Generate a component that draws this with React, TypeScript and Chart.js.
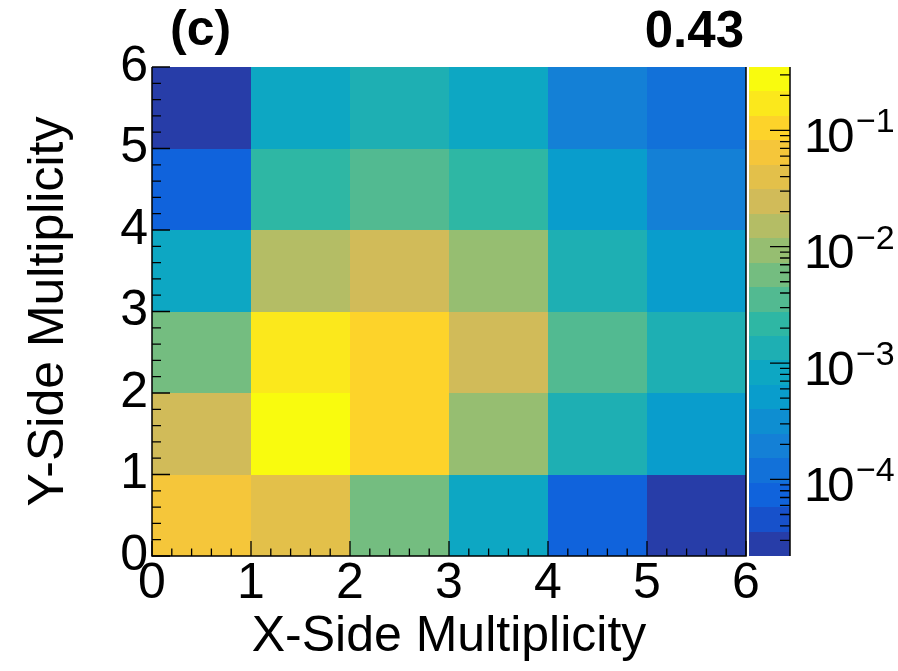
import React, { useEffect, useRef } from "react";
import { Chart, registerables } from "chart.js";

Chart.register(...registerables);

// ---- data ----
const xBinLow = [0, 1, 2, 3, 4, 5];
const yBinLow = [0, 1, 2, 3, 4, 5];
const binWidth = 1;
// values per Y row (index = X bin)
const rowY0 = [6.4e-2, 4.0e-2, 5.7e-3, 8.2e-4, 7.3e-5, 2.8e-5];
const rowY1 = [2.4e-2, 2.7e-1, 1.0e-1, 9.2e-3, 1.3e-3, 5.0e-4];
const rowY2 = [5.7e-3, 1.6e-1, 1.0e-1, 2.4e-2, 3.5e-3, 1.3e-3];
const rowY3 = [8.2e-4, 1.5e-2, 2.4e-2, 9.2e-3, 1.3e-3, 5.0e-4];
const rowY4 = [7.3e-5, 2.2e-3, 3.5e-3, 2.2e-3, 5.0e-4, 1.9e-4];
const rowY5 = [2.8e-5, 8.2e-4, 1.3e-3, 8.2e-4, 1.9e-4, 1.2e-4];
const rows = [rowY0, rowY1, rowY2, rowY3, rowY4, rowY5];

const axisMin = 0;
const axisMax = 6;
const zMin = 2.2e-5;
const zMax = 0.35;
const nContours = 20;
const zDecades = [-4, -3, -2, -1];

const panelLabel = "(c)";
const panelValue = "0.43";
const xTitle = "X-Side Multiplicity";
const yTitle = "Y-Side Multiplicity";

// ROOT kBird palette
const birdStops = [0.0, 0.125, 0.25, 0.375, 0.5, 0.625, 0.75, 0.875, 1.0];
const birdRed = [0.2082, 0.0592, 0.078, 0.0232, 0.1802, 0.5301, 0.8186, 0.9956, 0.9764];
const birdGreen = [0.1664, 0.3599, 0.5041, 0.6419, 0.7178, 0.7492, 0.7328, 0.7862, 0.9832];
const birdBlue = [0.5293, 0.8684, 0.8385, 0.7914, 0.6425, 0.4662, 0.3499, 0.1968, 0.0539];

const FONT = "'Liberation Sans', Arial, Helvetica, sans-serif";

function bird(t: number): string {
  const tt = Math.max(0, Math.min(1, t));
  let i = 0;
  while (i < birdStops.length - 2 && tt > birdStops[i + 1]) i++;
  const f = (tt - birdStops[i]) / (birdStops[i + 1] - birdStops[i]);
  const c = (a: number[]) => Math.round((a[i] + (a[i + 1] - a[i]) * f) * 255);
  return `rgb(${c(birdRed)},${c(birdGreen)},${c(birdBlue)})`;
}

function bandColor(b: number): string {
  const k = Math.floor(((b + 0.99) * 255) / nContours);
  return bird(Math.min(k, 254) / 254);
}

function bandOf(v: number): number {
  const lo = Math.log10(zMin);
  const hi = Math.log10(zMax);
  const b = Math.floor(((Math.log10(v) - lo) / (hi - lo)) * nContours);
  return Math.max(0, Math.min(nContours - 1, b));
}

const heatPlugin = {
  id: "heat",
  beforeDatasetsDraw(chart: any) {
    const { ctx, chartArea } = chart;
    const xs = chart.scales.x;
    const ys = chart.scales.y;
    const zs = chart.scales.z;
    const pts = chart.data.datasets[0].data;
    ctx.save();
    for (const p of pts) {
      const x0 = xs.getPixelForValue(p.xl);
      const x1 = xs.getPixelForValue(p.xl + binWidth);
      const y0 = ys.getPixelForValue(p.yl);
      const y1 = ys.getPixelForValue(p.yl + binWidth);
      ctx.fillStyle = bandColor(bandOf(p.v));
      const l = Math.round(x0), r = Math.round(x1), t = Math.round(y1), btm = Math.round(y0);
      ctx.fillRect(l, t, r - l, btm - t);
    }
    // colour bar
    const lo = Math.log10(zMin);
    const hi = Math.log10(zMax);
    const step = (hi - lo) / nContours;
    const barL = chartArea.right + 3;
    const barR = chartArea.right + 44;
    for (let b = 0; b < nContours; b++) {
      const pyLow = Math.round(zs.getPixelForValue(Math.pow(10, lo + b * step)));
      const pyHigh = Math.round(zs.getPixelForValue(Math.pow(10, lo + (b + 1) * step)));
      ctx.fillStyle = bandColor(b);
      ctx.fillRect(barL, pyHigh, barR - barL, pyLow - pyHigh);
    }
    ctx.restore();
  },
  afterDatasetsDraw(chart: any) {
    const { ctx, chartArea } = chart;
    const xs = chart.scales.x;
    const ys = chart.scales.y;
    const zs = chart.scales.z;
    const { left, right, top, bottom } = chartArea;
    ctx.save();
    ctx.strokeStyle = "#000";
    ctx.lineWidth = 1.5;
    ctx.beginPath();
    ctx.moveTo(left, top);
    ctx.lineTo(left, bottom);
    ctx.lineTo(right, bottom);
    ctx.lineTo(right, top);
    ctx.stroke();
    // axis ticks
    ctx.lineWidth = 1.3;
    ctx.beginPath();
    for (let v = axisMin; v <= axisMax + 1e-9; v += 0.2) {
      const major = Math.abs(v - Math.round(v)) < 1e-6;
      const py = ys.getPixelForValue(v);
      ctx.moveTo(left, py);
      ctx.lineTo(left + (major ? 18 : 9), py);
      const px = xs.getPixelForValue(v);
      ctx.moveTo(px, bottom);
      ctx.lineTo(px, bottom - (major ? 15 : 7.5));
    }
    ctx.stroke();
    // colour bar axis
    const barR = right + 44;
    ctx.lineWidth = 1.5;
    ctx.beginPath();
    ctx.moveTo(barR, top);
    ctx.lineTo(barR, bottom);
    ctx.stroke();
    ctx.lineWidth = 1.3;
    ctx.beginPath();
    for (let e = -6; e <= 1; e++) {
      for (let m = 1; m <= 9; m++) {
        const v = m * Math.pow(10, e);
        if (v < zMin || v > zMax) continue;
        const py = zs.getPixelForValue(v);
        ctx.moveTo(barR, py);
        ctx.lineTo(barR - (m === 1 ? 20 : 10), py);
      }
    }
    ctx.stroke();
    // colour bar labels
    ctx.fillStyle = "#000";
    ctx.textAlign = "left";
    ctx.textBaseline = "alphabetic";
    for (const e of zDecades) {
      const py = zs.getPixelForValue(Math.pow(10, e));
      ctx.font = `49px ${FONT}`;
      try { (ctx as any).letterSpacing = "-4px"; } catch (err) {}
      ctx.fillText("10", right + 58, py + 21.7);
      try { (ctx as any).letterSpacing = "0px"; } catch (err) {}
      ctx.font = `34px ${FONT}`;
      ctx.fillText("\u2212" + String(-e), right + 110, py + 2);
    }
    // panel texts
    ctx.font = `bold 50px ${FONT}`;
    ctx.textAlign = "left";
    ctx.fillText(panelLabel, left + 18, 45);
    ctx.font = `bold 51px ${FONT}`;
    ctx.textAlign = "right";
    ctx.fillText(panelValue, right - 2, 47);
    ctx.restore();
  },
};

const points: any[] = [];
yBinLow.forEach((yl, j) => {
  xBinLow.forEach((xl, i) => {
    points.push({ x: xl + binWidth / 2, y: yl + binWidth / 2, xl, yl, v: rows[j][i] });
  });
});

export default function App() {
  const ref = useRef<HTMLCanvasElement | null>(null);
  useEffect(() => {
    if (!ref.current) return;
    const tickFont = { family: FONT, size: 50, lineHeight: 1 };
    const titleFont = { family: FONT, size: 50 };
    const chart = new Chart(ref.current, {
      type: "scatter",
      data: {
        datasets: [
          {
            data: points,
            pointRadius: 0,
            pointHoverRadius: 0,
            showLine: false,
          },
        ],
      },
      options: {
        animation: false,
        responsive: true,
        maintainAspectRatio: false,
        events: [],
        layout: { padding: { top: 67, left: 0, right: 0, bottom: 0 } },
        plugins: { legend: { display: false }, tooltip: { enabled: false }, title: { display: false } },
        scales: {
          x: {
            type: "linear",
            position: "bottom",
            min: axisMin,
            max: axisMax,
            grid: { display: false, drawTicks: false },
            border: { display: false },
            ticks: {
              stepSize: 1,
              autoSkip: false,
              maxRotation: 0,
              minRotation: 0,
              padding: 3.5,
              color: "#000",
              font: tickFont,
              callback: (v: any) => String(v),
            },
            title: { display: true, text: xTitle, color: "#000", font: titleFont, padding: { top: 0, bottom: 4 } },
            afterFit: (s: any) => {
              s.height = 115;
            },
          },
          y: {
            type: "linear",
            position: "left",
            min: axisMin,
            max: axisMax,
            grid: { display: false, drawTicks: false },
            border: { display: false },
            ticks: {
              stepSize: 1,
              autoSkip: false,
              padding: 4,
              color: "#000",
              font: tickFont,
              callback: (v: any) => String(v),
            },
            title: { display: true, text: yTitle, color: "#000", font: titleFont, padding: { top: 19, bottom: 0 } },
            afterFit: (s: any) => {
              s.width = 152;
            },
          },
          z: {
            type: "logarithmic",
            position: "right",
            axis: "y",
            min: zMin,
            max: zMax,
            grid: { display: false, drawTicks: false },
            border: { display: false },
            ticks: { display: false },
            afterFit: (s: any) => {
              s.width = 152;
            },
          },
        } as any,
      },
      plugins: [heatPlugin],
    } as any);
    return () => chart.destroy();
  }, []);
  return (
    <div style={{ position: "absolute", left: 0, top: 0, width: 898, height: 671, background: "#fff" }}>
      <canvas ref={ref} />
    </div>
  );
}
